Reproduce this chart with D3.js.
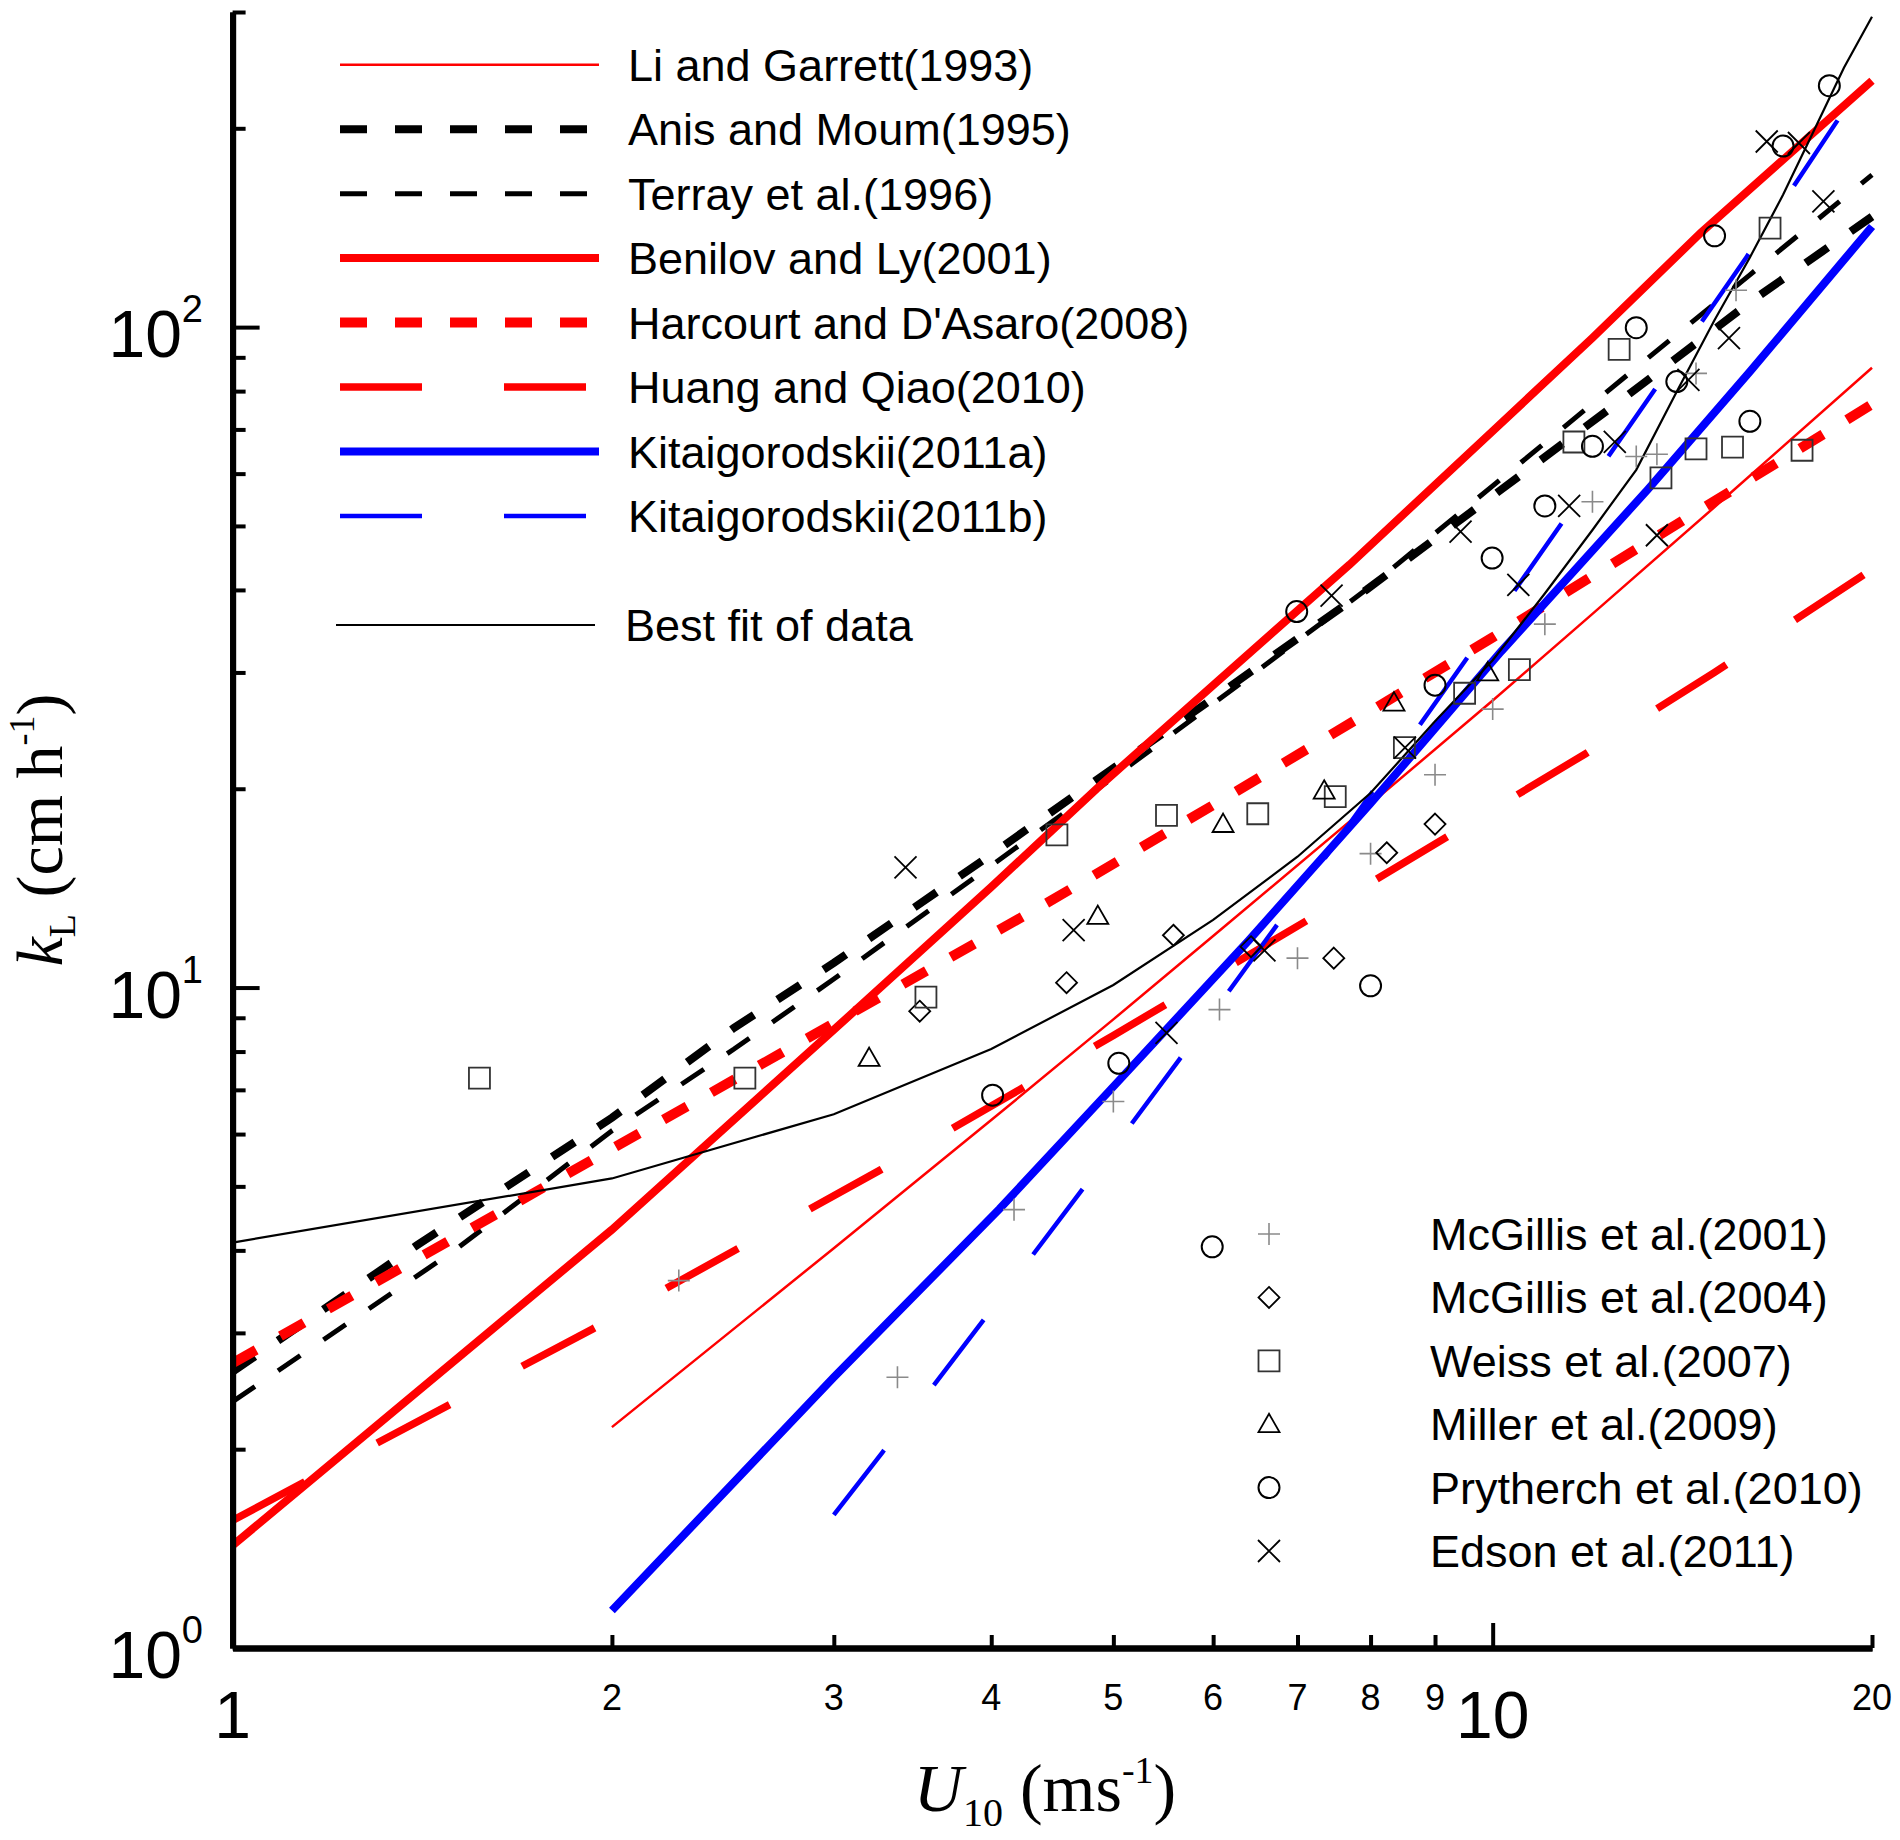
<!DOCTYPE html>
<html>
<head>
<meta charset="utf-8">
<script src="https://cdn.jsdelivr.net/npm/d3@7"></script>
<style>
  body { margin: 0; background: #fff; }
  svg text { font-family: "Liberation Sans", Arial, sans-serif; fill: #000; }
</style>
</head>
<body>
<svg id="chart"></svg>
<script>
// model curves: wind speed U10 (m/s) and transfer velocity kL (cm/h)
var liU = [2, 3, 4, 5, 6, 8, 10, 12, 15, 20];
var liK = [2.16, 4.03, 6.3, 8.95, 11.97, 18.97, 27.2, 36.8, 53.4, 86.8];

var anisU = [1, 1.4, 2, 2.5, 3, 4, 4.81, 6, 7.95, 10.15, 12.7, 16.1, 20];
var anisK = [2.62, 4.07, 6.35, 8.69, 10.9, 15.9, 20.4, 27.4, 40.1, 56.7, 78, 110, 147];

var terrayU = [1, 1.5, 2, 2.5, 3, 4, 5, 6, 8, 10, 13.3, 16, 20];
var terrayK = [2.36, 4.0, 6.07, 8.07, 10.3, 15.3, 20.8, 26.9, 40.5, 57.5, 90, 120, 170];

var benilovU = [1, 2, 3, 4, 4.85, 6, 7.7, 10, 12, 14.63, 20];
var benilovK = [1.43, 4.3, 8.63, 14.2, 20, 28.7, 43.7, 69.6, 96.3, 139, 236];

var harcourtU = [1, 2, 3, 4.45, 6.27, 8.18, 10, 14, 20];
var harcourtK = [2.7, 5.7, 8.83, 13.5, 19.85, 26.9, 33.9, 50.3, 76.4];

var huangU = [1, 1.3, 1.93, 3.27, 5, 6, 8.09, 10, 11.85, 15, 19.6, 20];
var huangK = [1.56, 2.04, 3.04, 5.3, 8.46, 10.4, 14.6, 18.6, 22.6, 30, 41.9, 43];

var kitaAU = [2, 3, 4.06, 5, 6.4, 8, 10.16, 13.28, 16, 20];
var kitaAK = [1.14, 2.57, 4.62, 7.08, 11.77, 19.0, 32.3, 56.8, 85.6, 142];

var kitaBU = [3, 3.28, 4, 5, 5.64, 6.73, 8, 10, 12, 15.9, 18.78];
var kitaBK = [1.59, 1.98, 3.25, 5.71, 7.78, 12.38, 19.6, 35.8, 58.8, 127.6, 205.6];

var bestU = [1, 2, 3, 4, 5, 6, 7, 8, 9, 10, 11, 12, 13, 14, 15, 16, 17, 18, 19, 20];
var bestK = [4.11, 5.14, 6.43, 8.07, 10.09, 12.66, 15.78, 19.7, 25.3, 31.3, 39.5, 49.3, 60.8, 79.9, 102.5, 127.5, 158.6, 199, 247, 295];

// observations
var mcg01U = [2.26, 3.37, 4.17, 5.0, 6.07, 7.0, 8.0, 9.0, 10.0, 11.0, 12.0, 13.0, 13.5, 14.5, 15.6];
var mcg01K = [3.60, 2.57, 4.61, 6.72, 9.26, 11.08, 15.95, 21.0, 26.4, 35.5, 54.4, 63.7, 64.2, 85.1, 113.7];

var mcg04U = [3.51, 4.59, 5.58, 6.43, 7.48, 8.24, 9.0];
var mcg04K = [9.21, 10.17, 12.0, 11.53, 11.08, 16.0, 17.68];

var weissU = [1.57, 2.55, 3.55, 4.51, 5.51, 6.51, 7.5, 8.51, 9.5, 10.5, 11.6, 12.6, 13.6, 14.5, 15.5, 16.6, 17.6];
var weissK = [7.29, 7.29, 9.67, 17.03, 18.23, 18.33, 19.46, 23.08, 27.9, 30.3, 67.0, 92.5, 59.1, 65.4, 65.8, 141.2, 65.1];

var millerU = [3.2, 4.86, 6.11, 7.35, 8.35, 9.91];
var millerK = [7.82, 12.83, 17.68, 19.86, 27.0, 30.0];

var prythU = [4.01, 5.05, 5.99, 6.99, 8.0, 9.0, 9.99, 11.0, 12.0, 13.0, 14.0, 15.0, 16.0, 17.0, 18.5];
var prythK = [6.87, 7.68, 4.05, 37.1, 10.06, 28.7, 44.7, 53.6, 66.0, 99.8, 82.7, 137.5, 72.0, 188, 232];

var edsonU = [3.42, 4.65, 5.51, 6.59, 7.45, 8.52, 9.43, 10.48, 11.5, 12.5, 13.5, 14.3, 15.4, 16.5, 17.5, 18.3];
var edsonK = [15.2, 12.22, 8.54, 11.38, 39.2, 23.08, 49.0, 40.7, 53.6, 67.0, 48.4, 83.2, 96.2, 191, 190, 155];

// ticks
var xMajor = [1, 10];
var xMinor = [2, 3, 4, 5, 6, 7, 8, 9, 20];
var yMajor = [1, 10, 100];
var yMinor = [2, 3, 4, 5, 6, 7, 8, 9, 20, 30, 40, 50, 60, 70, 80, 90, 200, 300];
var yExp = ["0", "1", "2"];

var svgWidth = 1900, svgHeight = 1840;

var svg = d3.select('#chart')
    .attr('width', svgWidth)
    .attr('height', svgHeight);

var x = d3.scaleLog().domain([1, 20]).range([232.6, 1872]);
var y = d3.scaleLog().domain([1, 300]).range([1648, 12]);

svg.append('clipPath').attr('id', 'plotclip')
    .append('rect')
    .attr('x', 232).attr('y', 10)
    .attr('width', 1645).attr('height', 1640);

// curves
var lines = [
    {name: "Li and Garrett(1993)", u: liU, k: liK, color: "#ff0000", width: 2.5, dash: null},
    {name: "Anis and Moum(1995)", u: anisU, k: anisK, color: "#000", width: 8, dash: "27,28"},
    {name: "Terray et al.(1996)", u: terrayU, k: terrayK, color: "#000", width: 5, dash: "27,28"},
    {name: "Benilov and Ly(2001)", u: benilovU, k: benilovK, color: "#ff0000", width: 8, dash: null},
    {name: "Harcourt and D'Asaro(2008)", u: harcourtU, k: harcourtK, color: "#ff0000", width: 10, dash: "27,28"},
    {name: "Huang and Qiao(2010)", u: huangU, k: huangK, color: "#ff0000", width: 7.5, dash: "82,82"},
    {name: "Kitaigorodskii(2011a)", u: kitaAU, k: kitaAK, color: "#0000ff", width: 8, dash: null},
    {name: "Kitaigorodskii(2011b)", u: kitaBU, k: kitaBK, color: "#0000ff", width: 4.5, dash: "82,82"}
];
var bestLine = {name: "Best fit of data", u: bestU, k: bestK, color: "#000", width: 2.2, dash: null};

var line = d3.line()
    .x(function (d) { return x(d[0]); })
    .y(function (d) { return y(d[1]); });

var curveG = svg.append('g').attr('clip-path', 'url(#plotclip)');

curveG.selectAll('path.model')
    .data(lines.concat([bestLine]))
    .enter()
    .append('path')
    .attr('class', 'model')
    .attr('d', function (s) { return line(d3.zip(s.u, s.k)); })
    .attr('fill', 'none')
    .attr('stroke', function (s) { return s.color; })
    .attr('stroke-width', function (s) { return s.width; })
    .attr('stroke-dasharray', function (s) { return s.dash; });

// marker shapes, size = half width
var shapes = {
    plus: {draw: function (c, r) { c.moveTo(-r, 0); c.lineTo(r, 0); c.moveTo(0, -r); c.lineTo(0, r); }},
    diamond: {draw: function (c, r) { c.moveTo(0, -r); c.lineTo(r, 0); c.lineTo(0, r); c.lineTo(-r, 0); c.closePath(); }},
    square: {draw: function (c, r) { c.rect(-r, -r, 2 * r, 2 * r); }},
    triangle: {draw: function (c, r) { c.moveTo(0, -r); c.lineTo(r, r * 0.75); c.lineTo(-r, r * 0.75); c.closePath(); }},
    circle: {draw: function (c, r) { c.moveTo(r, 0); c.arc(0, 0, r, 0, 2 * Math.PI); }},
    times: {draw: function (c, r) { c.moveTo(-r, -r); c.lineTo(r, r); c.moveTo(r, -r); c.lineTo(-r, r); }}
};

var obs = [
    {name: "McGillis et al.(2001)", u: mcg01U, k: mcg01K, shape: shapes.plus, r: 11, color: "#8a8a8a", width: 1.6},
    {name: "McGillis et al.(2004)", u: mcg04U, k: mcg04K, shape: shapes.diamond, r: 10.5, color: "#000", width: 1.8},
    {name: "Weiss et al.(2007)", u: weissU, k: weissK, shape: shapes.square, r: 10.5, color: "#333", width: 1.8},
    {name: "Miller et al.(2009)", u: millerU, k: millerK, shape: shapes.triangle, r: 10.5, color: "#000", width: 1.8},
    {name: "Prytherch et al.(2010)", u: prythU, k: prythK, shape: shapes.circle, r: 10.5, color: "#000", width: 2},
    {name: "Edson et al.(2011)", u: edsonU, k: edsonK, shape: shapes.times, r: 11, color: "#000", width: 1.8}
];

obs.forEach(function (s) {
    svg.append('g').selectAll('path')
        .data(d3.zip(s.u, s.k))
        .enter()
        .append('path')
        .attr('d', d3.symbol().type(s.shape).size(s.r))
        .attr('transform', function (d) { return 'translate(' + x(d[0]) + ',' + y(d[1]) + ')'; })
        .attr('fill', 'none')
        .attr('stroke', s.color)
        .attr('stroke-width', s.width);
});

// axes, ticks pointing inwards
var xAxisG = svg.append('g').attr('transform', 'translate(0,1648)');
xAxisG.append('g').call(d3.axisBottom(x).tickValues(xMinor).tickSize(-13).tickSizeOuter(0).tickFormat(''));
xAxisG.append('g').call(d3.axisBottom(x).tickValues([10]).tickSize(-25).tickSizeOuter(0).tickFormat(''));

var yAxisG = svg.append('g').attr('transform', 'translate(232.6,0)');
yAxisG.append('g').call(d3.axisLeft(y).tickValues(yMinor).tickSize(-13).tickSizeOuter(0).tickFormat(''));
yAxisG.append('g').call(d3.axisLeft(y).tickValues(yMajor).tickSize(-27).tickSizeOuter(0).tickFormat(''));

svg.selectAll('.domain').attr('stroke', '#000').attr('stroke-width', 6);
svg.selectAll('.tick line').attr('stroke', '#000').attr('stroke-width', 4);

// x tick labels
svg.selectAll('text.xmaj')
    .data(xMajor)
    .enter()
    .append('text')
    .attr('class', 'xmaj')
    .attr('x', function (d) { return x(d); })
    .attr('y', 1738)
    .attr('text-anchor', 'middle')
    .style('font-size', '66px')
    .text(function (d) { return d; });

svg.selectAll('text.xmin')
    .data(xMinor)
    .enter()
    .append('text')
    .attr('class', 'xmin')
    .attr('x', function (d) { return x(d); })
    .attr('y', 1710)
    .attr('text-anchor', 'middle')
    .style('font-size', '36px')
    .text(function (d) { return d; });

// y tick labels as powers of ten
var yLab = svg.selectAll('text.ymaj')
    .data(yMajor)
    .enter()
    .append('text')
    .attr('class', 'ymaj')
    .attr('x', 203)
    .attr('y', function (d) { return y(d) + 30; })
    .attr('text-anchor', 'end')
    .style('font-size', '66px');
yLab.append('tspan').text('10');
yLab.append('tspan')
    .attr('dy', -35)
    .style('font-size', '38px')
    .text(function (d, i) { return yExp[i]; });

// axis titles
var serif = '"Liberation Serif", "Times New Roman", serif';

var xt = svg.append('text')
    .attr('x', 1045).attr('y', 1811)
    .attr('text-anchor', 'middle')
    .style('font-family', serif)
    .style('font-size', '68px');
xt.append('tspan').style('font-style', 'italic').text('U');
xt.append('tspan').attr('dy', 15).style('font-size', '40px').text('10');
xt.append('tspan').attr('dy', -15).text(' (ms');
xt.append('tspan').attr('dy', -28).style('font-size', '38px').text('-1');
xt.append('tspan').attr('dy', 28).text(')');

var yt = svg.append('text')
    .attr('transform', 'translate(62,830) rotate(-90)')
    .attr('text-anchor', 'middle')
    .style('font-family', serif)
    .style('font-size', '66px');
yt.append('tspan').style('font-style', 'italic').text('k');
yt.append('tspan').attr('dy', 13).style('font-size', '38px').text('L');
yt.append('tspan').attr('dy', -13).text(' (cm h');
yt.append('tspan').attr('dy', -28).style('font-size', '36px').text('-1');
yt.append('tspan').attr('dy', 28).text(')');

// legend for the curves
var lgTop = svg.append('g');
lines.forEach(function (s, i) {
    var ly = 64.7 + i * 64.47;
    lgTop.append('line')
        .attr('x1', 340).attr('x2', 599)
        .attr('y1', ly).attr('y2', ly)
        .attr('stroke', s.color)
        .attr('stroke-width', s.width)
        .attr('stroke-dasharray', s.dash);
    lgTop.append('text')
        .attr('x', 628).attr('y', ly + 16)
        .style('font-size', '45px')
        .text(s.name);
});
lgTop.append('line')
    .attr('x1', 336).attr('x2', 595)
    .attr('y1', 625).attr('y2', 625)
    .attr('stroke', bestLine.color)
    .attr('stroke-width', bestLine.width);
lgTop.append('text')
    .attr('x', 625).attr('y', 641)
    .style('font-size', '45px')
    .text(bestLine.name);

// legend for the observations
var lgBot = svg.append('g');
obs.forEach(function (s, i) {
    var ly = 1234 + i * 63.4;
    lgBot.append('path')
        .attr('d', d3.symbol().type(s.shape).size(s.r))
        .attr('transform', 'translate(1269,' + ly + ')')
        .attr('fill', 'none')
        .attr('stroke', s.color)
        .attr('stroke-width', s.width);
    lgBot.append('text')
        .attr('x', 1430).attr('y', ly + 16)
        .style('font-size', '45px')
        .text(s.name);
});
</script>
</body>
</html>
